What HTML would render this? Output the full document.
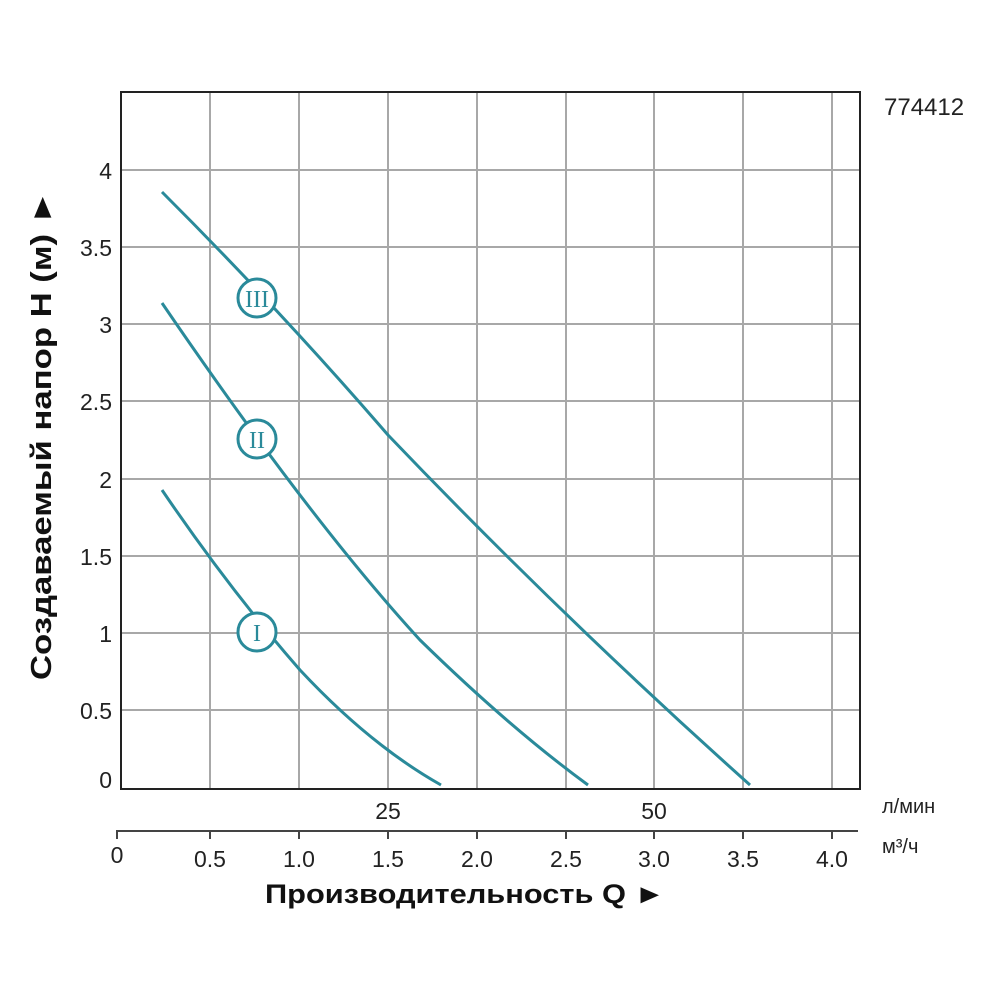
<!DOCTYPE html>
<html><head><meta charset="utf-8"><style>
body{margin:0;background:#fff;}
svg{display:block;font-family:"Liberation Sans",sans-serif;}
</style></head><body>
<svg width="1000" height="1000" viewBox="0 0 1000 1000">
<g stroke="#a8a8a8" stroke-width="2">
<line x1="210" y1="92" x2="210" y2="789"/><line x1="299" y1="92" x2="299" y2="789"/>
<line x1="388" y1="92" x2="388" y2="789"/><line x1="477" y1="92" x2="477" y2="789"/>
<line x1="566" y1="92" x2="566" y2="789"/><line x1="654" y1="92" x2="654" y2="789"/>
<line x1="743" y1="92" x2="743" y2="789"/><line x1="832" y1="92" x2="832" y2="789"/>
<line x1="121" y1="170" x2="860" y2="170"/><line x1="121" y1="247" x2="860" y2="247"/>
<line x1="121" y1="324" x2="860" y2="324"/><line x1="121" y1="401" x2="860" y2="401"/>
<line x1="121" y1="479" x2="860" y2="479"/><line x1="121" y1="556" x2="860" y2="556"/>
<line x1="121" y1="633" x2="860" y2="633"/><line x1="121" y1="710" x2="860" y2="710"/>
</g>
<rect x="121" y="92" width="739" height="697" fill="none" stroke="#222" stroke-width="2"/>
<g fill="none" stroke="#2a8a9a" stroke-width="3">
<path d="M162,192 Q280,310 388,435 Q560,615 750,785"/>
<path d="M162,303 Q310,520 420,640 Q510,728 588,785"/>
<path d="M162,490 Q230,590 300,670 Q370,745 441,785"/>
</g>
<g fill="#fff" stroke="#2a8a9a" stroke-width="3">
<circle cx="257" cy="298" r="19"/><circle cx="257" cy="439" r="19"/><circle cx="257" cy="632" r="19"/>
</g>
<g fill="#2a8a9a" font-size="24" text-anchor="middle" font-family="Liberation Serif,serif">
<text x="257" y="307">III</text><text x="257" y="448">II</text><text x="257" y="641">I</text>
</g>
<g font-size="23" fill="#222" text-anchor="end">
<text x="112" y="179">4</text><text x="112" y="256">3.5</text><text x="112" y="333">3</text>
<text x="112" y="410">2.5</text><text x="112" y="488">2</text><text x="112" y="565">1.5</text>
<text x="112" y="642">1</text><text x="112" y="719">0.5</text><text x="112" y="788">0</text>
</g>
<text x="884" y="115" font-size="24" fill="#222">774412</text>
<g font-size="23" fill="#222" text-anchor="middle">
<text x="388" y="819">25</text><text x="654" y="819">50</text>
</g>
<text x="882" y="813" font-size="20" fill="#222">л/мин</text>
<text x="882" y="853" font-size="20" fill="#222">м³/ч</text>
<g stroke="#444" stroke-width="2">
<line x1="117" y1="831" x2="858" y2="831"/>
<line x1="117" y1="830" x2="117" y2="839"/><line x1="210" y1="830" x2="210" y2="839"/>
<line x1="299" y1="830" x2="299" y2="839"/><line x1="388" y1="830" x2="388" y2="839"/>
<line x1="477" y1="830" x2="477" y2="839"/><line x1="566" y1="830" x2="566" y2="839"/>
<line x1="654" y1="830" x2="654" y2="839"/><line x1="743" y1="830" x2="743" y2="839"/>
<line x1="832" y1="830" x2="832" y2="839"/>
</g>
<g font-size="23" fill="#222" text-anchor="middle">
<text x="117" y="863">0</text><text x="210" y="867">0.5</text><text x="299" y="867">1.0</text>
<text x="388" y="867">1.5</text><text x="477" y="867">2.0</text><text x="566" y="867">2.5</text>
<text x="654" y="867">3.0</text><text x="743" y="867">3.5</text><text x="832" y="867">4.0</text>
</g>
<text x="265" y="903" font-size="27" font-weight="bold" fill="#111" textLength="400" lengthAdjust="spacingAndGlyphs">Производительность Q ►</text>
<text transform="translate(51,680) rotate(-90)" font-size="29" font-weight="bold" fill="#111" textLength="490" lengthAdjust="spacingAndGlyphs">Создаваемый напор H (м) ►</text>
</svg>
</body></html>
